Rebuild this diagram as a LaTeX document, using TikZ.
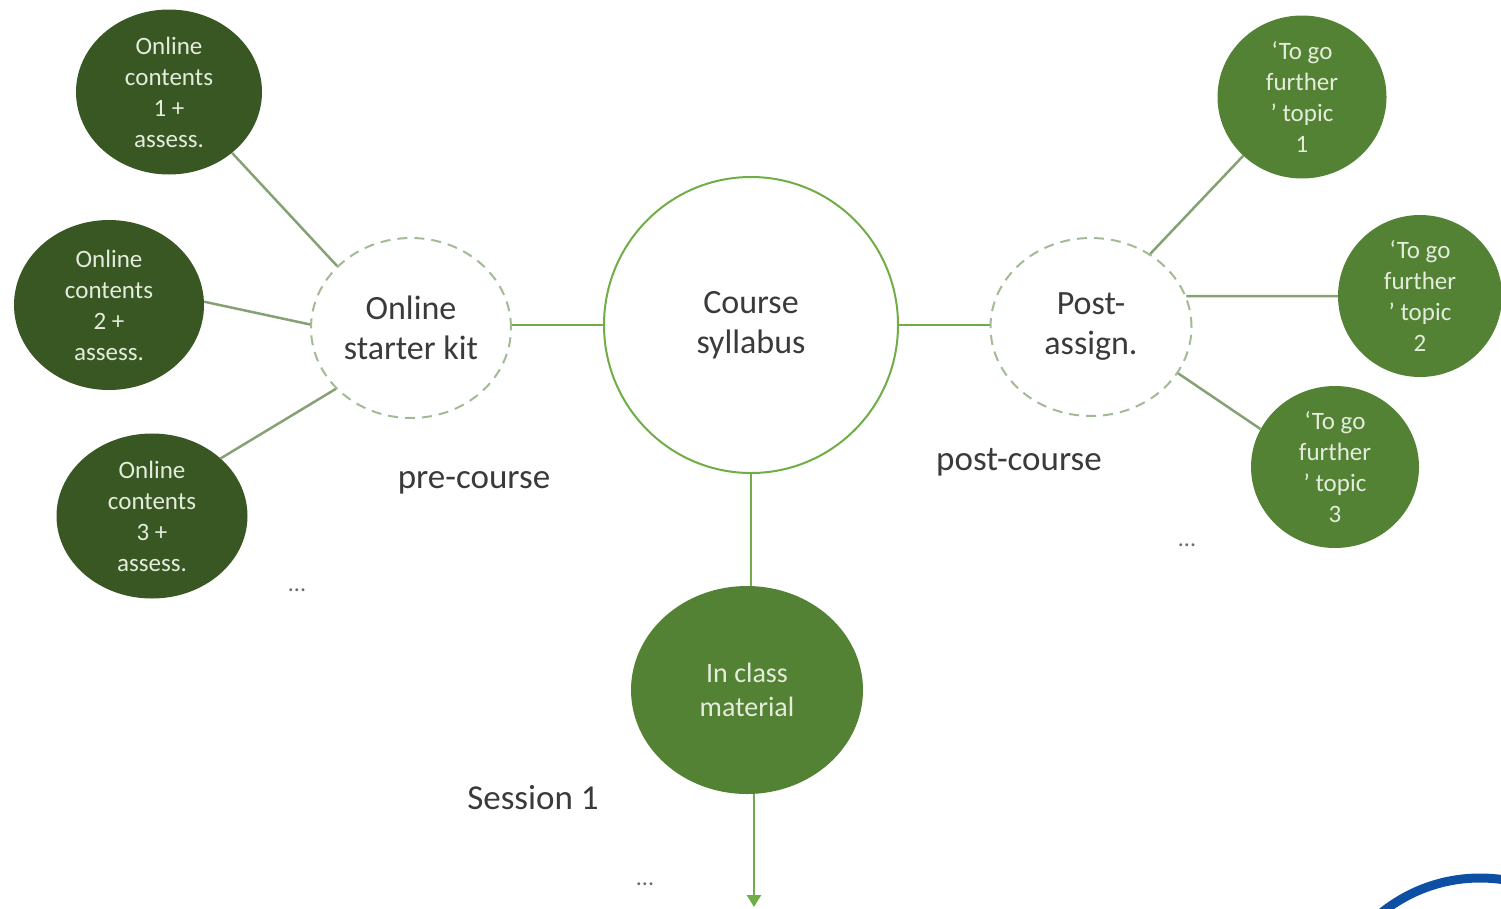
\documentclass[tikz,border=0pt]{standalone}
\usepackage{fontspec}
\setmainfont{Carlito}
\usetikzlibrary{shapes.geometric,arrows.meta}
\definecolor{darkleaf}{HTML}{385723}
\definecolor{midleaf}{HTML}{548235}
\definecolor{brightleaf}{HTML}{70AD47}
\definecolor{greyleaf}{HTML}{86A274}
\definecolor{dashleaf}{HTML}{A3BA95}
\definecolor{paletext}{HTML}{E4ECDC}
\definecolor{inktext}{HTML}{3A3A3A}
\definecolor{ringblue}{HTML}{0D4FA3}
\tikzset{
  blob/.style={ellipse, inner sep=0pt, align=center, text=paletext,
    font=\fontsize{25}{31}\selectfont},
  darkblob/.style={blob, fill=darkleaf},
  midblob/.style={blob, fill=midleaf},
  hub/.style={ellipse, inner sep=0pt, align=center, text=inktext,
    font=\fontsize{34}{40}\selectfont},
  dashhub/.style={hub, draw=dashleaf, line width=2pt, dash pattern=on 10pt off 7pt},
  spoke/.style={draw=greyleaf, line width=2.5pt},
  trunk/.style={draw=brightleaf, line width=2.5pt},
  caption/.style={text=inktext, font=\fontsize{35}{40}\selectfont},
  dots/.style={text=inktext!75, font=\fontsize{24}{24}\selectfont},
}
\begin{document}
\begin{tikzpicture}[x=1pt,y=-1pt]
\useasboundingbox (0,0) rectangle (1501,908);

% central hub
\node[hub, draw=brightleaf, line width=2pt, minimum width=294pt, minimum height=296pt] (course) at (751,325) {Course\\syllabus};

% pre-course branch
\node[dashhub, minimum width=200pt, minimum height=180pt] (kit) at (411,328) {Online\\starter kit};
\node[darkblob, minimum width=186pt, minimum height=165pt] (oc1) at (169,92) {Online\\contents\\1 +\\assess.};
\node[darkblob, minimum width=190pt, minimum height=170pt] (oc2) at (109,305) {Online\\contents\\2 +\\assess.};
\node[darkblob, minimum width=191pt, minimum height=165pt] (oc3) at (152,516) {Online\\contents\\3 +\\assess.};

% post-course branch
\node[dashhub, minimum width=201pt, minimum height=178pt] (post) at (1091,327) {Post-\\assign.};
\node[midblob, minimum width=169pt, minimum height=163pt] (tgf1) at (1302,97) {‘To go\\further\\’ topic\\1};
\node[midblob, minimum width=164pt, minimum height=162pt] (tgf2) at (1420,296) {‘To go\\further\\’ topic\\2};
\node[midblob, minimum width=168pt, minimum height=162pt] (tgf3) at (1335,467) {‘To go\\further\\’ topic\\3};

% in-class branch
\node[midblob, minimum width=232pt, minimum height=208pt, font=\fontsize{28}{34}\selectfont] (inclass) at (747,690) {In class\\material};
\coordinate (next) at (754,907);

% connectors
\draw[trunk] (course.west) -- (kit.east |- course.west);
\draw[trunk] (course.east) -- (post.west |- course.east);
\draw[trunk] (course.south) -- (inclass.north -| course.south);
\draw[trunk, -{Triangle[width=14pt,length=12pt]}] (inclass.south -| next) -- (next);

\draw[spoke] (oc1.-44) -- (kit.140);
\draw[spoke] (oc2.2) -- (kit.178);
\draw[spoke] (oc3.40) -- (kit.219);

\draw[spoke] (tgf1.225) -- (post.51);
\draw[spoke] (tgf2.180) -- (post.18);
\draw[spoke] (tgf3.153) -- (post.-28);

% captions
\node[caption] (pre) at (474,483) {pre-course};
\node[caption] (postc) at (1019,462) {post-course};
\node[caption] (sess) at (533,798) {Session 1};
\node[dots] (d1) at (297,590) {...};
\node[dots] (d2) at (1187,545) {...};
\node[dots] (d3) at (645,884) {...};

% corner ring
\begin{scope}
  \clip (0,0) rectangle (1501,908);
  \draw[ringblue, line width=9pt] (1480,1035) circle[radius=157];
\end{scope}
\end{tikzpicture}
\end{document}
